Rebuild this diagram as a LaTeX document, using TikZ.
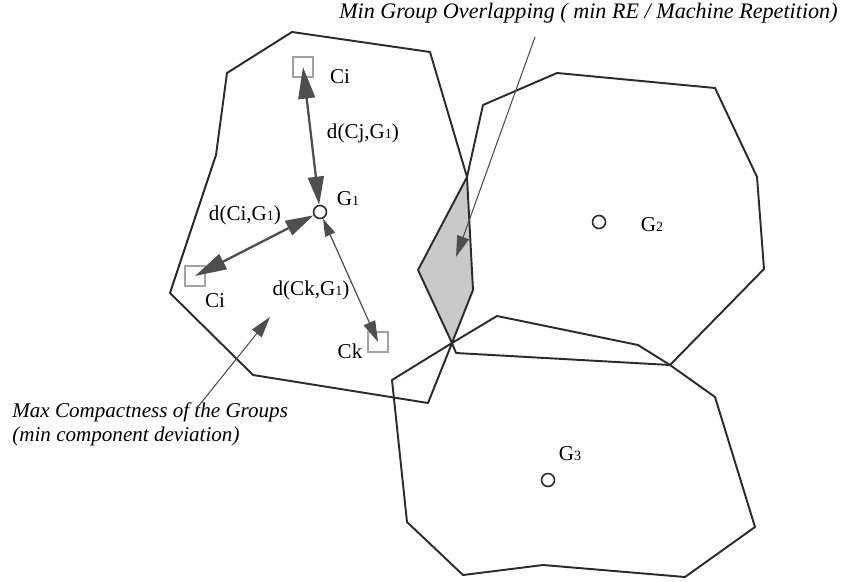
\documentclass[tikz,border=0pt]{standalone}
\usepackage{fontspec}
\setmainfont{Liberation Serif}
\usepackage{tikz}
\usetikzlibrary{arrows.meta, positioning}
\definecolor{edgegray}{HTML}{2B2B2B}
\definecolor{arrowgray}{HTML}{4E4E4E}
\definecolor{boxgray}{HTML}{A3A3A3}
\definecolor{overlapgray}{HTML}{C9C9C9}
\newcommand{\idx}[1]{{\fontsize{8}{8}\selectfont #1}}
\tikzstyle{group} = [line width=1.1pt, draw=edgegray, line join=round]
\tikzstyle{centre} = [circle, draw=edgegray, fill=white, line width=0.9pt, minimum size=0.26cm, inner sep=0pt]
\tikzstyle{comp} = [draw=boxgray, line width=0.6pt, minimum size=0.4cm, inner sep=0pt]
\tikzstyle{bigdist} = [line width=1.3pt, draw=arrowgray, {Triangle[length=18pt,width=9.5pt]}-{Triangle[length=16pt,width=9pt]}]
\tikzstyle{thindist} = [line width=0.7pt, draw=arrowgray, {Triangle[length=10pt,width=6pt]}-{Triangle[length=12pt,width=7pt]}]
\tikzstyle{pointer} = [line width=0.6pt, draw=arrowgray, -{Triangle[length=12pt,width=7pt]}]

\begin{document}
\begin{tikzpicture}[x=0.02cm, y=-0.02cm, font=\fontsize{12}{14}\selectfont, inner sep=0pt]
    \useasboundingbox (0,0) rectangle (841,581);

    % shared corners
    \coordinate (ovtop) at (467,177);
    \coordinate (ovbot) at (452,343);
    \coordinate (meet) at (670,365);

    % overlap of groups 1 and 2
    \fill[overlapgray] (ovtop) -- (473,290) -- (ovbot) -- (418,270) -- cycle;

    % Groups
    \draw[group] (292,32) -- (430,52) -- (ovtop) -- (473,290) -- (ovbot) -- (428,403) -- (253,375)
        -- (170,293) -- (216,155) -- (227,73) -- cycle;
    \draw[group] (483,105) -- (557,73) -- (715,88) -- (757,177) -- (764,269) -- (meet) -- (456,353)
        -- (ovbot) -- (418,270) -- (ovtop) -- cycle;
    \draw[group] (392,380) -- (ovbot) -- (497,316) -- (638,345) -- (meet) -- (715,397) -- (755,527)
        -- (685,577) -- (543,565) -- (463,575) -- (407,522) -- cycle;

    % centres and components
    \node (g1) at (320,212) [centre] {};
    \node (g2) at (599,222) [centre] {};
    \node (g3) at (548,480) [centre] {};
    \node (cj) at (303,67) [comp] {};
    \node (ci) at (195,276) [comp] {};
    \node (ck) at (378,342) [comp] {};

    \node (g1lbl) at (348,199) {G\idx{1}};
    \node (g2lbl) at (652,225) {G\idx{2}};
    \node (g3lbl) at (570,454) {G\idx{3}};
    \node (cjlbl) at (340,77) {Ci};
    \node (cilbl) at (215,301) {Ci};
    \node (cklbl) at (350,351) {Ck};
    \node (djlbl) at (363,133) {d(Cj,G\idx{1})};
    \node (dilbl) at (245,215) {d(Ci,G\idx{1})};
    \node (dklbl) at (311,290) {d(Ck,G\idx{1})};

    % distances to the centre
    \draw[bigdist] (cj.center) -- (g1);
    \draw[bigdist] (ci.center) -- (g1);
    \draw[thindist] (g1) -- (ck.center);

    % notes
    \node (minlbl) [anchor=base east, font=\fontsize{12.6}{14}\selectfont\itshape] at (838,19)
        {Min Group Overlapping ( min RE / Machine Repetition)};
    \node (maxlbl) [anchor=north west, align=left, font=\fontsize{12}{14}\selectfont\itshape] at (12,402)
        {Max Compactness of the Groups\\(min component deviation)};
    \coordinate (ovtip) at (456,257);
    \coordinate (cmptip) at (270,317);
    \draw[pointer] (minlbl.base east) ++(-303,18) -- (ovtip);
    \draw[pointer] (maxlbl.north west) ++(185,6) -- (cmptip);
\end{tikzpicture}
\end{document}
